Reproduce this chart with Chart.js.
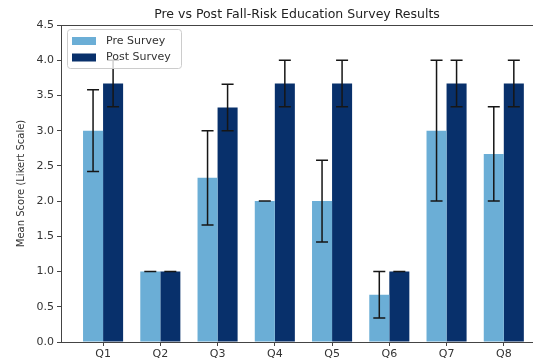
<!DOCTYPE html>
<html>
<head>
<meta charset="utf-8">
<script src="https://cdn.jsdelivr.net/npm/chart.js@4.4.1/dist/chart.umd.min.js"></script>
<style>
  html, body { margin: 0; padding: 0; background: #fff; overflow: hidden; }
  canvas { display: block; }
</style>
</head>
<body>
<canvas id="chart" width="533" height="361"></canvas>
<script>
// Survey questions and mean Likert scores with their error margins
const categories = ['Q1', 'Q2', 'Q3', 'Q4', 'Q5', 'Q6', 'Q7', 'Q8'];
const preMeans   = [3.0, 1.0, 2.33, 2.0, 2.0, 0.67, 3.0, 2.67];
const preErrors  = [0.58, 0, 0.67, 0, 0.58, 0.33, 1.0, 0.67];
const postMeans  = [3.67, 1.0, 3.33, 3.67, 3.67, 1.0, 3.67, 3.67];
const postErrors = [0.33, 0, 0.33, 0.33, 0.33, 0, 0.33, 0.33];
const seriesNames = ['Pre Survey', 'Post Survey'];
const chartTitle = 'Pre vs Post Fall-Risk Education Survey Results';
const yAxisTitle = 'Mean Score (Likert Scale)';

const FONT = '"DejaVu Sans", sans-serif';
const AXIS_COLOR = '#444';
const TEXT_COLOR = '#333';

const toPoints = vals => vals.map((v, i) => ({ x: i, y: v }));

// Vertical error bars with caps, placed on each bar through the value scale
const errorBars = {
  id: 'errorBars',
  afterDatasetsDraw(chart) {
    const { ctx } = chart;
    const yScale = chart.scales.y;
    ctx.save();
    ctx.strokeStyle = '#161616';
    ctx.lineWidth = 1.5;
    chart.data.datasets.forEach((ds, di) => {
      const meta = chart.getDatasetMeta(di);
      meta.data.forEach((bar, i) => {
        const v = ds.data[i].y;
        const e = ds.errors[i];
        const top = yScale.getPixelForValue(v + e);
        const bot = yScale.getPixelForValue(v - e);
        const x = bar.x;
        const cap = 6;
        ctx.beginPath();
        ctx.moveTo(x, top); ctx.lineTo(x, bot);
        ctx.moveTo(x - cap, top); ctx.lineTo(x + cap, top);
        ctx.moveTo(x - cap, bot); ctx.lineTo(x + cap, bot);
        ctx.stroke();
      });
    });
    ctx.restore();
  }
};

// Title centred over the plot, top spine, and the in-plot legend box
const frame = {
  id: 'frame',
  afterDraw(chart) {
    const { ctx, chartArea: a } = chart;
    ctx.save();
    // top spine
    ctx.strokeStyle = AXIS_COLOR;
    ctx.lineWidth = 1;
    ctx.beginPath();
    ctx.moveTo(a.left, a.top + 0.5);
    ctx.lineTo(a.right, a.top + 0.5);
    ctx.stroke();

    // title
    ctx.fillStyle = '#222';
    ctx.font = '12.5px ' + FONT;
    ctx.textAlign = 'center';
    ctx.textBaseline = 'alphabetic';
    ctx.fillText(chartTitle, (a.left + a.right) / 2, 18);

    // legend
    const lx = a.left + 6, ly = a.top + 4, lw = 114, lh = 39;
    ctx.fillStyle = 'rgba(255,255,255,0.8)';
    ctx.strokeStyle = '#cccccc';
    ctx.lineWidth = 1;
    ctx.beginPath();
    ctx.roundRect(lx + 0.5, ly + 0.5, lw, lh, 3);
    ctx.fill();
    ctx.stroke();
    ctx.font = '11px ' + FONT;
    ctx.textAlign = 'left';
    ctx.textBaseline = 'middle';
    chart.data.datasets.forEach((ds, i) => {
      const cy = ly + 12 + i * 16.5;
      ctx.fillStyle = ds.backgroundColor;
      ctx.fillRect(lx + 5, cy - 4, 24, 8);
      ctx.fillStyle = TEXT_COLOR;
      ctx.fillText(ds.label, lx + 39, cy);
    });
    ctx.restore();
  }
};

new Chart(document.getElementById('chart'), {
  type: 'bar',
  data: {
    datasets: [
      { label: seriesNames[0], data: toPoints(preMeans), errors: preErrors,
        backgroundColor: '#6baed6', borderWidth: 0 },
      { label: seriesNames[1], data: toPoints(postMeans), errors: postErrors,
        backgroundColor: '#08306b', borderWidth: 0 }
    ]
  },
  options: {
    responsive: false,
    animation: false,
    devicePixelRatio: 1,
    categoryPercentage: 0.7,
    barPercentage: 1.0,
    layout: { padding: { top: 25, right: 0, bottom: 0, left: 0 } },
    plugins: {
      legend: { display: false },
      title: { display: false },
      tooltip: { enabled: false }
    },
    scales: {
      x: {
        type: 'linear',
        offset: false,
        min: -0.735,
        max: 7.51,
        afterBuildTicks: s => { s.ticks = categories.map((_, i) => ({ value: i })); },
        afterFit: s => { s.height = 19; },
        ticks: {
          callback: v => categories[v],
          font: { family: FONT, size: 11 },
          color: TEXT_COLOR,
          padding: 2,
          maxRotation: 0,
          autoSkip: false
        },
        grid: { offset: false, drawOnChartArea: false, drawTicks: true, tickLength: 4, tickColor: AXIS_COLOR, color: AXIS_COLOR },
        border: { display: true, color: AXIS_COLOR, width: 1 }
      },
      y: {
        min: 0,
        max: 4.5,
        afterFit: s => { s.width = 61; },
        ticks: {
          stepSize: 0.5,
          callback: v => v.toFixed(1),
          font: { family: FONT, size: 11 },
          color: TEXT_COLOR,
          padding: 3
        },
        title: {
          display: true,
          text: yAxisTitle,
          font: { family: FONT, size: 10 },
          color: TEXT_COLOR,
          padding: { top: 15, bottom: 0 }
        },
        grid: { drawOnChartArea: false, drawTicks: true, tickLength: 4, tickColor: AXIS_COLOR, color: AXIS_COLOR },
        border: { display: true, color: AXIS_COLOR, width: 1 }
      }
    }
  },
  plugins: [errorBars, frame]
});
</script>
</body>
</html>
